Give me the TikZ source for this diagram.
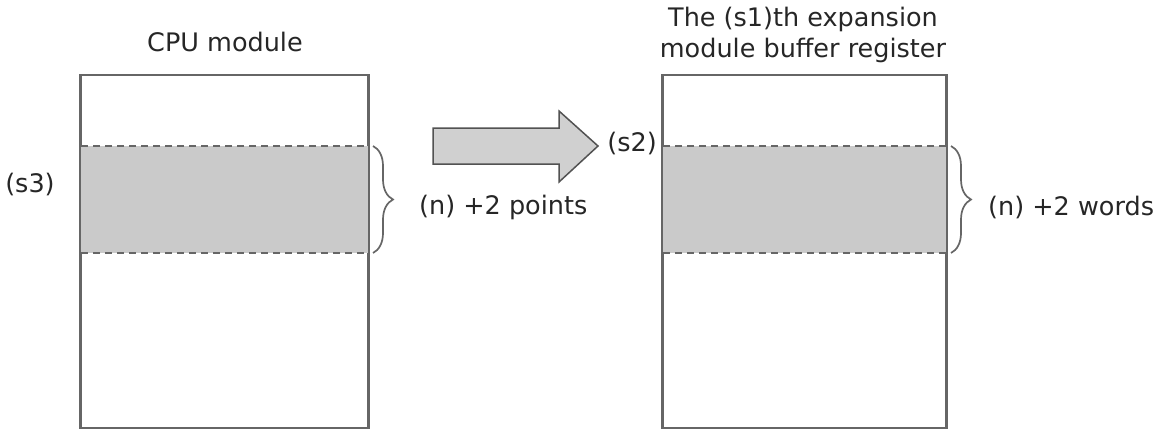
\documentclass[tikz,border=0pt]{standalone}
\usepackage{fontspec}
\setmainfont{DejaVu Sans}
\usetikzlibrary{decorations.pathreplacing}
\definecolor{edgegray}{HTML}{666666}
\definecolor{bandgray}{HTML}{CACACA}
\definecolor{arrowgray}{HTML}{D0D0D0}
\begin{document}
\begin{tikzpicture}[x=1pt,y=-1pt,
  lbl/.style={inner sep=0pt, font=\fontsize{25.5}{31}\selectfont, text=black!85},
  membox/.style={draw=edgegray, line width=1.8pt, fill=white, inner sep=0pt},
  band/.style={fill=bandgray, draw=none},
  bandedge/.style={draw=edgegray, line width=1.8pt, dash pattern=on 7pt off 5pt},
  bracestyle/.style={draw=edgegray, line width=1.7pt, decorate,
    decoration={brace, amplitude=20pt}},
  bigarrow/.style={draw=edgegray!80!black, line width=1.5pt, fill=arrowgray, line join=miter}
]
\useasboundingbox (0,0) rectangle (1172,434);

% memory areas
\node[membox, minimum width=287pt, minimum height=353pt] (cpu) at (224.5,251.5) {};
\node[membox, minimum width=283pt, minimum height=353pt] (buf) at (804.5,251.5) {};

% shaded transfer ranges
\fill[band] (81,146) rectangle (368,253);
\fill[band] (663,146) rectangle (946,253);
\draw[edgegray, line width=1.8pt] (cpu.north west) -- (cpu.south west) (cpu.north east) -- (cpu.south east);
\draw[edgegray, line width=1.8pt] (buf.north west) -- (buf.south west) (buf.north east) -- (buf.south east);
\draw[bandedge] (81,146) -- (368,146) (81,253) -- (368,253);
\draw[bandedge] (663,146) -- (946,146) (663,253) -- (946,253);

% braces
\draw[bracestyle] (373,146) -- (373,253);
\draw[bracestyle] (951,146) -- (951,253);

% transfer arrow
\draw[bigarrow] (433,128) -- (559,128) -- (559,111) -- (598,146) -- (559,182)
  -- (559,164) -- (433,164) -- cycle;

% labels
\node[lbl] (cputitle) at (225,42) {CPU module};
\node[lbl, align=center] (buftitle) at (803,35) {The (s1)th expansion\\module buffer register};
\node[lbl] (s3) at (30,185) {(s3)};
\node[lbl] (s2) at (632,144) {(s2)};
\node[lbl, anchor=west] (pts) at (419,207) {(n) +2 points};
\node[lbl, anchor=west] (wds) at (988,207) {(n) +2 words};
\end{tikzpicture}
\end{document}
